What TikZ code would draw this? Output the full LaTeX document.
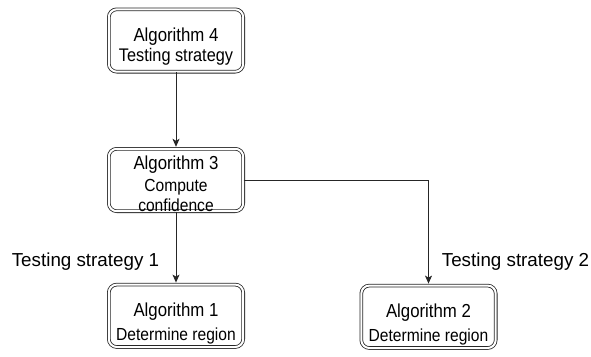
\documentclass[tikz,border=0pt]{standalone}
\usepackage{fontspec}
\setmainfont{Liberation Sans}
\usetikzlibrary{arrows.meta}
\begin{document}
\begin{tikzpicture}[x=1pt,y=-1pt,
  algbox/.style={draw=black!85, line width=0.8pt, double=white, double distance=2pt,
    rounded corners=8pt, minimum width=134.4pt, minimum height=62.4pt, inner sep=0pt},
  head/.style={anchor=base, inner sep=0pt, yscale=1.12, font=\fontsize{16.8}{20}\selectfont},
  sub/.style={anchor=base, inner sep=0pt, yscale=1.12, font=\fontsize{15.6}{20}\selectfont},
  conn/.style={draw=black!85, line width=0.9pt, -{Stealth[length=8pt,width=7pt,inset=2pt]}, shorten >=1.6pt},
  lbl/.style={anchor=base, inner sep=0pt, font=\fontsize{18.8}{22}\selectfont}]
\useasboundingbox (0,0) rectangle (591,356);
% boxes
\node[algbox] (a4) at (176,40.5) {};
\node[algbox] (a3) at (176,180) {};
\node[algbox] (a1) at (176,315.8) {};
\node[algbox] (a2) at (428.5,316.8) {};
% box texts
\node[head] (a4t1) at (176,41) {Algorithm 4};
\node[sub, font=\fontsize{16.3}{20}\selectfont] (a4t2) at (176,61.7) {Testing strategy};
\node[head] (a3t1) at (176,169) {Algorithm 3};
\node[sub] (a3t2) at (176,191.5) {Compute};
\node[sub] (a3t3) at (176,211) {confidence};
\node[head] (a1t1) at (176,316.7) {Algorithm 1};
\node[sub] (a1t2) at (176,340.5) {Determine region};
\node[head] (a2t1) at (428.5,317.2) {Algorithm 2};
\node[sub] (a2t2) at (428.5,341.5) {Determine region};
% labels
\node[lbl] (l1) at (85.5,266.7) {Testing strategy 1};
\node[lbl] (l2) at (515.5,266.7) {Testing strategy 2};
% connectors
\draw[conn] (a4.south) -- (a3.north);
\draw[conn] (a3.south) -- (a1.north);
\draw[conn] (a3.east) -| (a2.north);
\end{tikzpicture}
\end{document}
